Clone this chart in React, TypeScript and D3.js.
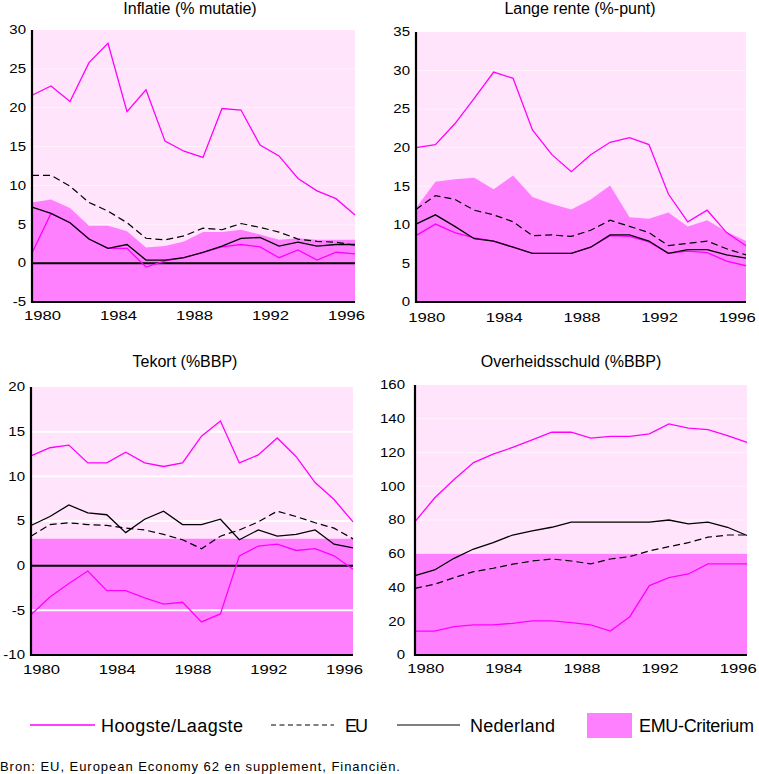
import React from "react";
import * as d3 from "d3";

const years = [1980, 1981, 1982, 1983, 1984, 1985, 1986, 1987, 1988, 1989, 1990, 1991, 1992, 1993, 1994, 1995, 1996, 1997];
const xTickYears = [1980, 1984, 1988, 1992, 1996];

// Inflatie (% mutatie)
const inflHigh = [21.6, 22.8, 20.8, 25.8, 28.3, 19.5, 22.3, 15.7, 14.4, 13.6, 19.9, 19.7, 15.2, 13.8, 10.9, 9.3, 8.3, 6.2];
const inflLow = [1.3, 6.4, 5.2, 3.1, 1.9, 1.9, -0.5, 0.3, 0.7, 1.4, 2.1, 2.4, 2.1, 0.7, 1.7, 0.4, 1.4, 1.2];
const inflNL = [7.2, 6.4, 5.2, 3.1, 1.9, 2.4, 0.4, 0.4, 0.7, 1.4, 2.2, 3.2, 3.3, 2.2, 2.7, 2.2, 2.4, 2.4];
const inflEU = [11.3, 11.3, 9.9, 7.8, 6.7, 5.2, 3.2, 3.0, 3.5, 4.5, 4.3, 5.1, 4.6, 4.0, 3.1, 2.8, 2.7, 2.3];
const inflEMU = [7.8, 8.2, 7.1, 4.8, 4.8, 4.1, 2.0, 2.2, 2.8, 4.0, 4.0, 4.3, 3.7, 3.0, 3.2, 3.0, 3.0, 3.0];
const inflTicks = [-5, 0, 5, 10, 15, 20, 25, 30];

// Lange rente (%-punt)
const renteHigh = [20.0, 20.4, 23.1, 26.4, 29.8, 29.0, 22.3, 19.1, 16.9, 19.1, 20.7, 21.3, 20.4, 14.0, 10.4, 11.9, 9.0, 7.3];
const renteLow = [8.6, 10.1, 9.0, 8.3, 7.9, 7.1, 6.3, 6.3, 6.3, 7.1, 8.6, 8.5, 7.8, 6.3, 6.6, 6.4, 5.3, 4.7];
const renteNL = [10.1, 11.3, 9.8, 8.2, 7.9, 7.1, 6.3, 6.3, 6.3, 7.1, 8.7, 8.7, 7.9, 6.3, 6.8, 6.8, 6.1, 5.7];
const renteEU = [12.0, 13.8, 13.3, 11.9, 11.3, 10.4, 8.6, 8.7, 8.5, 9.3, 10.6, 9.8, 9.0, 7.3, 7.6, 7.9, 6.9, 6.1];
const renteEMU = [12.2, 15.6, 15.9, 16.1, 14.6, 16.4, 13.6, 12.7, 12.0, 13.3, 15.1, 11.0, 10.8, 11.6, 9.8, 10.6, 9.1, 7.9];
const renteTicks = [0, 5, 10, 15, 20, 25, 30, 35];

// Tekort (%BBP)
const tekortHigh = [12.3, 13.2, 13.5, 11.5, 11.5, 12.7, 11.5, 11.1, 11.5, 14.5, 16.2, 11.5, 12.4, 14.3, 12.2, 9.3, 7.4, 4.9];
const tekortLow = [-5.5, -3.5, -2.0, -0.6, -2.8, -2.8, -3.6, -4.3, -4.1, -6.3, -5.4, 1.1, 2.2, 2.4, 1.7, 1.9, 1.1, -0.4];
const tekortNL = [4.5, 5.5, 6.8, 5.9, 5.7, 3.7, 5.2, 6.1, 4.6, 4.6, 5.2, 2.9, 4.0, 3.3, 3.5, 4.0, 2.4, 2.0];
const tekortEU = [3.3, 4.6, 4.8, 4.6, 4.5, 4.2, 4.0, 3.5, 2.9, 1.9, 3.3, 4.0, 4.9, 6.1, 5.5, 4.8, 4.2, 3.0];
const tekortEMU = [3, 3, 3, 3, 3, 3, 3, 3, 3, 3, 3, 3, 3, 3, 3, 3, 3, 3];
const tekortTicks = [-10, -5, 0, 5, 10, 15, 20];

// Overheidsschuld (%BBP)
const schuldHigh = [79, 93, 104, 114, 119, 123, 127.5, 132, 132, 128.5, 129.5, 129.5, 131, 137, 134.5, 133.5, 130, 126];
const schuldLow = [14.2, 14.2, 16.8, 17.8, 17.8, 18.8, 20.2, 20.2, 19.2, 17.8, 14.2, 22.7, 41.1, 45.8, 48, 54, 54, 54];
const schuldNL = [47, 50.4, 57.3, 62.8, 66.6, 71.1, 73.5, 75.7, 78.7, 78.7, 78.7, 78.7, 78.7, 80, 77.7, 78.7, 75.7, 70.8];
const schuldEU = [39.5, 41.9, 45.8, 49.4, 51.4, 53.8, 55.7, 56.9, 55.7, 54, 56.9, 58.3, 61.7, 64.2, 66.6, 69.8, 71.1, 71.1];
const schuldEMU = [60, 60, 60, 60, 60, 60, 60, 60, 60, 60, 60, 60, 60, 60, 60, 60, 60, 60];
const schuldTicks = [0, 20, 40, 60, 80, 100, 120, 140, 160];

const titles = ["Inflatie (% mutatie)", "Lange rente (%-punt)", "Tekort (%BBP)", "Overheidsschuld (%BBP)"];
const legendLabels = ["Hoogste/Laagste", "EU", "Nederland", "EMU-Criterium"];
const sourceText = "Bron: EU, European Economy 62 en supplement, Financiën.";

const LIGHT = "#FFE4FB";
const FILL = "#FF80FF";
const MAGENTA = "#FF00FF";
const FONT = "Liberation Sans, Arial, sans-serif";

type PanelCfg = {
  title: string;
  high: number[];
  low: number[];
  nl: number[];
  eu: number[];
  emu: number[];
  ticks: number[];
  x0: number;
  x1: number;
  yTop: number;
  yBot: number;
  titleX: number;
  titleY: number;
  xLabelY: number;
  labelGap: number;
  strongGrid: boolean;
};

function Panel({ p }: { p: PanelCfg }) {
  const x = d3.scaleLinear().domain([years[0], years[years.length - 1]]).range([p.x0, p.x1]);
  const y = d3
    .scaleLinear()
    .domain([p.ticks[0], p.ticks[p.ticks.length - 1]])
    .range([p.yBot, p.yTop]);
  const line = d3
    .line<number>()
    .x((_, i) => x(years[i]))
    .y((d) => y(d));
  const area = d3
    .area<number>()
    .x((_, i) => x(years[i]))
    .y0(y(p.ticks[0]))
    .y1((d) => y(d));
  const hasZero = p.ticks[0] < 0;
  const grid = p.ticks.filter((t) => t !== 0 && t !== p.ticks[0] && t !== p.ticks[p.ticks.length - 1]);
  return (
    <g>
      <text x={p.titleX} y={p.titleY} textAnchor="middle" fontFamily={FONT} fontSize={16} fill="#000">
        {p.title}
      </text>
      <rect x={p.x0} y={p.yTop} width={p.x1 - p.x0} height={p.yBot - p.yTop} fill={LIGHT} />
      {!p.strongGrid &&
        grid.map((t) => (
          <line key={"g" + t} x1={p.x0} x2={p.x1} y1={y(t)} y2={y(t)} stroke="#fff" strokeOpacity={0.55} strokeWidth={1} />
        ))}
      <path d={area(p.emu) || ""} fill={FILL} />
      {p.strongGrid &&
        grid.map((t) => (
          <line key={"g" + t} x1={p.x0} x2={p.x1} y1={y(t)} y2={y(t)} stroke="#fff" strokeWidth={2} />
        ))}
      {hasZero && <line x1={p.x0} x2={p.x1} y1={y(0)} y2={y(0)} stroke="#000" strokeWidth={2} />}
      <path d={line(p.high) || ""} fill="none" stroke={MAGENTA} strokeWidth={1.3} />
      <path d={line(p.low) || ""} fill="none" stroke={MAGENTA} strokeWidth={1.3} />
      <path d={line(p.eu) || ""} fill="none" stroke="#000" strokeWidth={1.2} strokeDasharray="7,4" />
      <path d={line(p.nl) || ""} fill="none" stroke="#000" strokeWidth={1.3} />
      <line x1={p.x0} x2={p.x0} y1={p.yTop} y2={p.yBot + 1} stroke="#000" strokeWidth={2.2} />
      <line x1={p.x0} x2={p.x1} y1={p.yBot} y2={p.yBot} stroke="#000" strokeWidth={2.2} />
      {p.ticks.map((t) => (
        <text
          key={"y" + t}
          transform={`translate(${p.x0 - p.labelGap},${y(t)}) scale(1.25,1)`}
          textAnchor="end"
          dy="0.36em"
          fontFamily={FONT}
          fontSize={12}
          fill="#000"
        >
          {t}
        </text>
      ))}
      {xTickYears.map((yr) => (
        <text
          key={"x" + yr}
          transform={`translate(${x(yr + 0.55)},${p.xLabelY}) scale(1.28,1)`}
          textAnchor="middle"
          fontFamily={FONT}
          fontSize={13}
          fill="#000"
        >
          {yr}
        </text>
      ))}
    </g>
  );
}

export default function App() {
  const panels: PanelCfg[] = [
    { title: titles[0], high: inflHigh, low: inflLow, nl: inflNL, eu: inflEU, emu: inflEMU, ticks: inflTicks,
      x0: 32, x1: 355, yTop: 30, yBot: 302, titleX: 190, titleY: 14, xLabelY: 320, labelGap: 6, strongGrid: false },
    { title: titles[1], high: renteHigh, low: renteLow, nl: renteNL, eu: renteEU, emu: renteEMU, ticks: renteTicks,
      x0: 416, x1: 746, yTop: 32, yBot: 302, titleX: 580, titleY: 14, xLabelY: 322, labelGap: 6, strongGrid: false },
    { title: titles[2], high: tekortHigh, low: tekortLow, nl: tekortNL, eu: tekortEU, emu: tekortEMU, ticks: tekortTicks,
      x0: 31, x1: 353, yTop: 387, yBot: 655, titleX: 185, titleY: 367, xLabelY: 674, labelGap: 6, strongGrid: true },
    { title: titles[3], high: schuldHigh, low: schuldLow, nl: schuldNL, eu: schuldEU, emu: schuldEMU, ticks: schuldTicks,
      x0: 415, x1: 747, yTop: 385, yBot: 655, titleX: 571, titleY: 367, xLabelY: 673, labelGap: 10, strongGrid: false },
  ];
  const legendY = 725;
  return (
    <svg width={759} height={774} style={{ position: "absolute", left: 0, top: 0, background: "#fff" }}>
      {panels.map((p, i) => (
        <Panel key={i} p={p} />
      ))}
      <g fontFamily="Liberation Sans Narrow, Liberation Sans, Arial, sans-serif" fontSize={18} fill="#000">
        <line x1={30} x2={95} y1={legendY} y2={legendY} stroke={MAGENTA} strokeWidth={1.3} />
        <text x={101} y={legendY + 6.5} textLength={142} lengthAdjust="spacing">{legendLabels[0]}</text>
        <line x1={271} x2={334} y1={legendY} y2={legendY} stroke="#000" strokeWidth={1} strokeDasharray="5,3.5" />
        <text x={345} y={legendY + 6.5} textLength={23} lengthAdjust="spacing">{legendLabels[1]}</text>
        <line x1={397} x2={460} y1={legendY} y2={legendY} stroke="#000" strokeWidth={1.2} />
        <text x={470} y={legendY + 6.5} textLength={85} lengthAdjust="spacing">{legendLabels[2]}</text>
        <rect x={587} y={713} width={45} height={25} fill={FILL} />
        <text x={639} y={legendY + 6.5} textLength={115} lengthAdjust="spacing">{legendLabels[3]}</text>
      </g>
      <text x={0} y={771} fontFamily={FONT} fontSize={13} fill="#000" textLength={400} lengthAdjust="spacing">
        {sourceText}
      </text>
    </svg>
  );
}
